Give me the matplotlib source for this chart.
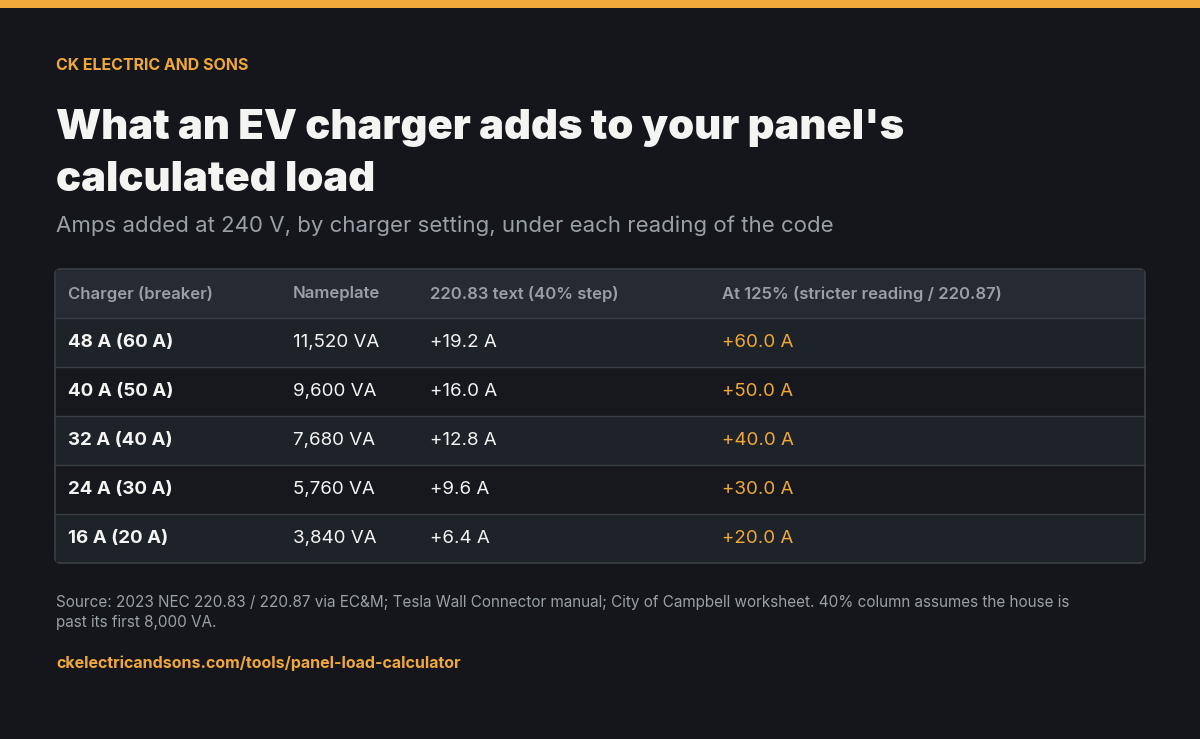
import matplotlib
matplotlib.use("Agg")
import matplotlib.pyplot as plt
from matplotlib.patches import Rectangle, FancyBboxPatch

plt.rcParams['font.family'] = ['Inter', 'DejaVu Sans']

headers = ["Charger (breaker)", "Nameplate", "220.83 text (40% step)", "At 125% (stricter reading / 220.87)"]
chargers = ["48 A (60 A)", "40 A (50 A)", "32 A (40 A)", "24 A (30 A)", "16 A (20 A)"]
nameplate = ["11,520 VA", "9,600 VA", "7,680 VA", "5,760 VA", "3,840 VA"]
step40 = ["+19.2 A", "+16.0 A", "+12.8 A", "+9.6 A", "+6.4 A"]
at125 = ["+60.0 A", "+50.0 A", "+40.0 A", "+30.0 A", "+20.0 A"]

BG = "#14161b"
ORANGE = "#f0a83a"
WHITE = "#f4f4f2"
GREY = "#9aa0a8"

fig = plt.figure(figsize=(12, 7.39), dpi=100, facecolor=BG)
ax = fig.add_axes([0, 0, 1, 1])
ax.set_xlim(0, 1200)
ax.set_ylim(739, 0)
ax.axis("off")
ax.set_facecolor(BG)

ax.add_patch(Rectangle((0, 0), 1200, 8, color=ORANGE, lw=0))

ax.text(56, 66, "CK ELECTRIC AND SONS", color=ORANGE, fontsize=11.5, fontweight="bold", va="center")
ax.text(56, 128, "What an EV charger adds to your panel's", color=WHITE, fontsize=30, fontweight="black", va="center")
ax.text(56, 180, "calculated load", color=WHITE, fontsize=30, fontweight="black", va="center")
ax.text(56, 226, "Amps added at 240 V, by charger setting, under each reading of the code",
        color=GREY, fontsize=16, va="center")

left, right, top = 55, 1145, 269
head_h, row_h = 49, 49
bottom = top + head_h + row_h * len(chargers)
ax.add_patch(FancyBboxPatch((left, top), right - left, bottom - top,
                            boxstyle="round,pad=0,rounding_size=6",
                            facecolor="#1e2229", edgecolor="#3a3f47", lw=1.2, zorder=1))
ax.add_patch(Rectangle((left + 1, top + 1), right - left - 2, head_h - 1, color="#262b33", lw=0, zorder=2))
col_x = [68, 293, 430, 722]
for x, h in zip(col_x, headers):
    ax.text(x, top + head_h / 2, h, color=GREY, fontsize=12, fontweight="semibold", va="center", zorder=4)

for i, (c, n, s, a) in enumerate(zip(chargers, nameplate, step40, at125)):
    y0 = top + head_h + i * row_h
    fc = "#1e2229" if i % 2 == 0 else "#16181d"
    ax.add_patch(Rectangle((left + 1, y0), right - left - 2, row_h - (1 if i == len(chargers) - 1 else 0),
                           color=fc, lw=0, zorder=2))
    ax.plot([left, right], [y0, y0], color="#3a3f47", lw=1, zorder=3)
    yc = y0 + row_h / 2
    ax.text(col_x[0], yc, c, color=WHITE, fontsize=13.5, fontweight="bold", va="center", zorder=4)
    ax.text(col_x[1], yc, n, color=WHITE, fontsize=13.5, va="center", zorder=4)
    ax.text(col_x[2], yc, s, color=WHITE, fontsize=13.5, va="center", zorder=4)
    ax.text(col_x[3], yc, a, color=ORANGE, fontsize=13.5, va="center", zorder=4)

ax.text(56, 602, "Source: 2023 NEC 220.83 / 220.87 via EC&M; Tesla Wall Connector manual; City of Campbell worksheet. 40% column assumes the house is",
        color=GREY, fontsize=11, va="center")
ax.text(56, 623, "past its first 8,000 VA.", color=GREY, fontsize=11, va="center")
ax.text(56, 663, "ckelectricandsons.com/tools/panel-load-calculator", color=ORANGE, fontsize=11.5,
        fontweight="bold", va="center")

fig.savefig("out.png", dpi=100, facecolor=BG)
